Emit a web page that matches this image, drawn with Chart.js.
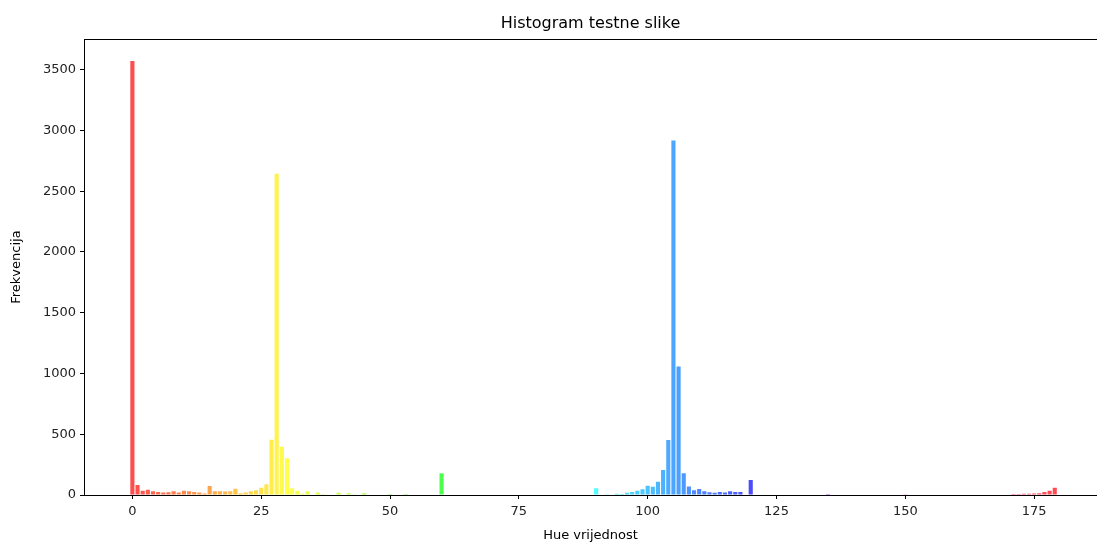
<!DOCTYPE html>
<html>
<head>
<meta charset="utf-8">
<script src="https://cdn.jsdelivr.net/npm/chart.js@4/dist/chart.umd.min.js"></script>
<style>
  html, body { margin: 0; padding: 0; background: #fff; overflow: hidden; }
  canvas { display: block; }
</style>
</head>
<body>
<canvas id="hist" width="1097" height="544"></canvas>
<script>
// hue bins 0..179 (OpenCV hue range)
const hues = Array.from({ length: 180 }, (_, i) => i);

// frequency per hue bin
const counts = [
  3572, 82, 36, 44, 30, 25, 20, 22, 30, 20,      // 0-9
  35, 30, 25, 20, 12, 74, 30, 30, 28, 30,        // 10-19
  52, 15, 20, 30, 39, 60, 88, 455, 2644, 398,    // 20-29
  302, 55, 35, 11, 30, 5, 20, 8, 5, 5,           // 30-39
  18, 5, 15, 3, 0, 15, 0, 0, 0, 0,               // 40-49
  8, 0, 0, 8, 0, 0, 0, 0, 0, 0,                  // 50-59
  180, 0, 0, 0, 0, 0, 0, 0, 0, 0,                // 60-69
  0, 0, 0, 0, 0, 5, 0, 0, 0, 0,                  // 70-79
  5, 0, 0, 0, 0, 0, 0, 0, 0, 0,                  // 80-89
  55, 0, 3, 5, 10, 8, 19, 25, 35, 47,            // 90-99
  76, 68, 110, 205, 453, 2918, 1057, 179, 70, 40, // 100-109
  50, 30, 22, 18, 25, 20, 30, 25, 25, 5,         // 110-119
  124, 0, 0, 0, 0, 0, 0, 0, 0, 0,                // 120-129
  0, 0, 0, 0, 0, 8, 0, 0, 0, 0,                  // 130-139
  0, 0, 0, 0, 0, 0, 0, 0, 0, 0,                  // 140-149
  6, 0, 0, 0, 0, 0, 0, 0, 0, 0,                  // 150-159
  0, 0, 0, 0, 0, 0, 0, 0, 0, 0,                  // 160-169
  5, 8, 8, 10, 10, 12, 15, 25, 35, 60            // 170-179
];

const xTicks = [0, 25, 50, 75, 100, 125, 150, 175];
const yTicks = [0, 500, 1000, 1500, 2000, 2500, 3000, 3500];

const FONT = "'DejaVu Sans', sans-serif";

// each bar painted in its own hue (OpenCV hue * 2 = degrees)
const barColors = hues.map(h => `hsla(${h * 2}, 100%, 50%, 0.7)`);

const topSpine = {
    id: 'topSpine',
    afterDraw(chart) {
        const { ctx, chartArea } = chart;
        ctx.save();
        ctx.strokeStyle = '#000';
        ctx.lineWidth = 1;
        ctx.beginPath();
        ctx.moveTo(chartArea.left, Math.round(chartArea.top) + 0.5);
        ctx.lineTo(chartArea.right + 2, Math.round(chartArea.top) + 0.5);
        ctx.stroke();
        ctx.restore();
    }
};

const keepTicks = (list) => (scale) => {
    scale.ticks = list.map(v => ({ value: v }));
};

new Chart(document.getElementById('hist'), {
    type: 'bar',
    data: {
        datasets: [{
            data: hues.map((h, i) => ({ x: h, y: counts[i] })),
            backgroundColor: barColors,
            borderWidth: 0,
            barPercentage: 0.8,
            categoryPercentage: 1.0
        }]
    },
    options: {
        responsive: false,
        animation: false,
        layout: { padding: { left: 0, right: 0, top: 0, bottom: 0 } },
        plugins: {
            legend: { display: false },
            tooltip: { enabled: false },
            title: {
                display: true,
                text: 'Histogram testne slike',
                fullSize: false,
                color: '#000',
                font: { family: FONT, size: 16, weight: 'normal' },
                padding: { top: 14, bottom: 6 }
            }
        },
        scales: {
            x: {
                type: 'linear',
                offset: false,
                min: -9.39,
                max: 187.2,
                afterBuildTicks: keepTicks(xTicks),
                afterFit(scale) { scale.height = 49; },
                grid: { display: true, offset: false, drawOnChartArea: false, drawTicks: true, tickLength: 4, color: '#000' },
                border: { display: true, color: '#000', width: 1 },
                ticks: {
                    color: '#222', padding: 5, maxRotation: 0,
                    font: { family: FONT, size: 13 },
                    callback: (v) => String(v)
                },
                title: {
                    display: true,
                    text: 'Hue vrijednost',
                    color: '#000',
                    font: { family: FONT, size: 13 },
                    padding: { top: 0, bottom: 1 }
                }
            },
            y: {
                min: 0,
                max: 3751,
                afterBuildTicks: keepTicks(yTicks),
                afterFit(scale) { scale.width = 84; },
                grid: { display: true, drawOnChartArea: false, drawTicks: true, tickLength: 4, color: '#000' },
                border: { display: true, color: '#000', width: 1 },
                ticks: {
                    color: '#222', padding: 4,
                    font: { family: FONT, size: 13 },
                    callback: (v) => String(v)
                },
                title: {
                    display: true,
                    text: 'Frekvencija',
                    color: '#000',
                    font: { family: FONT, size: 13 },
                    padding: { top: 9, bottom: 0 }
                }
            }
        }
    },
    plugins: [topSpine]
});
</script>
</body>
</html>
